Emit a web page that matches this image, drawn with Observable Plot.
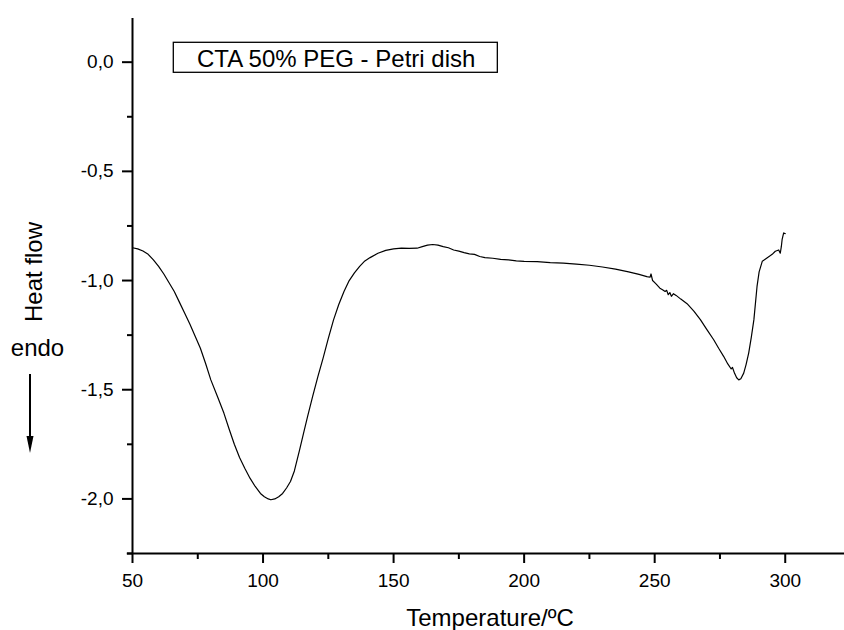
<!DOCTYPE html>
<html>
<head>
<meta charset="utf-8">
<script src="https://cdn.jsdelivr.net/npm/d3@7"></script>
<script src="https://cdn.jsdelivr.net/npm/@observablehq/plot@0.6"></script>
<style>
  html, body { margin: 0; padding: 0; background: #fff; }
  #chart svg { display: block; font-family: "Liberation Sans", Arial, Helvetica, sans-serif; }
</style>
</head>
<body>
<div id="chart"></div>
<script>
const temperature = [50,52,54,56,58,60,62,64,66,68,70,72,74,76,78,80,82.5,85,87,89,91,93,95,97,99,100.5,102,103,104.5,106,107.5,109,110.5,112,114,115.5,117,119,121,123,125,127,129,131,133,135,137,139,141,144,147,150,153,156,159,161,163,165,167,169,171,173,175,177,179,181,183,185,188,191,194,197,200,205,210,215,220,225,230,235,240,244,247,248.2,248.6,249.2,250.5,252,253,254,254.6,255.2,255.8,256.4,257.2,258.2,260,262.4,265,267.5,270,272.6,274.5,276.4,278,279.3,279.8,280.6,281.4,282.2,283,284.1,285,286,287,288,289.2,290,291.2,293,295,296.2,297.5,298.1,298.5,298.8,299.4,300];
const heatFlow = [-0.85,-0.855,-0.865,-0.88,-0.905,-0.935,-0.97,-1.01,-1.05,-1.10,-1.15,-1.20,-1.255,-1.31,-1.38,-1.455,-1.53,-1.607,-1.68,-1.75,-1.81,-1.86,-1.905,-1.943,-1.975,-1.99,-2.0,-2.004,-2.0,-1.99,-1.975,-1.95,-1.92,-1.872,-1.775,-1.70,-1.625,-1.53,-1.44,-1.355,-1.265,-1.18,-1.11,-1.05,-1.00,-0.965,-0.935,-0.91,-0.895,-0.875,-0.862,-0.855,-0.852,-0.853,-0.852,-0.845,-0.838,-0.835,-0.838,-0.845,-0.85,-0.86,-0.865,-0.872,-0.878,-0.88,-0.89,-0.895,-0.898,-0.903,-0.905,-0.91,-0.912,-0.913,-0.918,-0.92,-0.925,-0.93,-0.938,-0.948,-0.96,-0.972,-0.982,-0.985,-0.97,-1.0,-1.015,-1.035,-1.042,-1.05,-1.045,-1.065,-1.055,-1.072,-1.06,-1.068,-1.085,-1.106,-1.14,-1.179,-1.225,-1.271,-1.31,-1.347,-1.382,-1.405,-1.398,-1.425,-1.445,-1.455,-1.45,-1.424,-1.385,-1.332,-1.26,-1.179,-1.027,-0.96,-0.912,-0.897,-0.88,-0.866,-0.86,-0.875,-0.845,-0.813,-0.782,-0.785];

const xTicks = [50, 100, 150, 200, 250, 300];
const xMinorTicks = [75, 125, 175, 225, 275];
const yTicks = [0, -0.5, -1.0, -1.5, -2.0];
const yMinorTicks = [-0.25, -0.75, -1.25, -1.75, -2.25];
const xDomain = [50, 322.7];
const yDomain = [-2.25, 0.2];
const xLabel = "Temperature/ºC";
const yLabel = "Heat flow";
const endoLabel = "endo";
const legendLabel = "CTA 50% PEG - Petri dish";

const data = temperature.map((t, i) => ({t, h: heatFlow[i]}));
const fmt = d => d.toFixed(1).replace(".", ",").replace(/^-0,0$/, "0,0");

const plot = Plot.plot({
  width: 844,
  height: 630,
  marginLeft: 132,
  marginRight: 0,
  marginTop: 18,
  marginBottom: 77,
  style: {fontFamily: '"Liberation Sans", Arial, Helvetica, sans-serif', fontSize: "19px", background: "#fff", color: "#000"},
  x: {domain: xDomain},
  y: {domain: yDomain},
  marks: [
    Plot.axisX(xTicks, {tickSize: 10, tickPadding: 10, fontSize: 19, strokeWidth: 2, tickFormat: d => String(d), label: null}),
    Plot.axisX(xMinorTicks, {tickSize: 6, strokeWidth: 2, tickFormat: () => "", label: null}),
    Plot.axisY(yTicks, {tickSize: 10, tickPadding: 9, fontSize: 19, strokeWidth: 2, tickFormat: fmt, label: null}),
    Plot.axisY(yMinorTicks, {tickSize: 5, strokeWidth: 2, tickFormat: () => "", label: null}),
    Plot.ruleX([xDomain[0]], {y1: yDomain[0], y2: yDomain[1], stroke: "#000", strokeWidth: 2}),
    Plot.ruleY([yDomain[0]], {x1: xDomain[0] - 2, x2: xDomain[1], stroke: "#000", strokeWidth: 2}),
    Plot.line(data, {x: "t", y: "h", stroke: "#000", strokeWidth: 1.2, curve: "linear"})
  ]
});

const svg = d3.select(plot);
// x axis title
svg.append("text").attr("x", 490).attr("y", 626).attr("text-anchor", "middle")
  .style("font-size", "24px").attr("fill", "#000").text(xLabel);
// y axis title (rotated)
svg.append("text").attr("transform", "translate(42,272) rotate(-90)").attr("text-anchor", "middle")
  .style("font-size", "24px").attr("fill", "#000").text(yLabel);
// endo label
svg.append("text").attr("x", 37.5).attr("y", 356).attr("text-anchor", "middle")
  .style("font-size", "24px").attr("fill", "#000").text(endoLabel);
// arrow
svg.append("line").attr("x1", 30).attr("x2", 30).attr("y1", 374).attr("y2", 440)
  .attr("stroke", "#000").attr("stroke-width", 2);
svg.append("path").attr("d", "M26.5,436 L33.5,436 L30,453 Z").attr("fill", "#000");
// legend box
const lg = svg.append("g");
const lt = lg.append("text").attr("x", 197).attr("y", 66.5).attr("text-anchor", "start")
  .style("font-size", "24px").attr("fill", "#000").text(legendLabel);
document.getElementById("chart").appendChild(plot);
const bb = lt.node().getBBox();
lg.insert("rect", "text").attr("x", 173.3).attr("y", 42.3).attr("width", bb.x + bb.width + 22 - 173.3).attr("height", 30)
  .attr("fill", "#fff").attr("stroke", "#000").attr("stroke-width", 1.3);
</script>
</body>
</html>
